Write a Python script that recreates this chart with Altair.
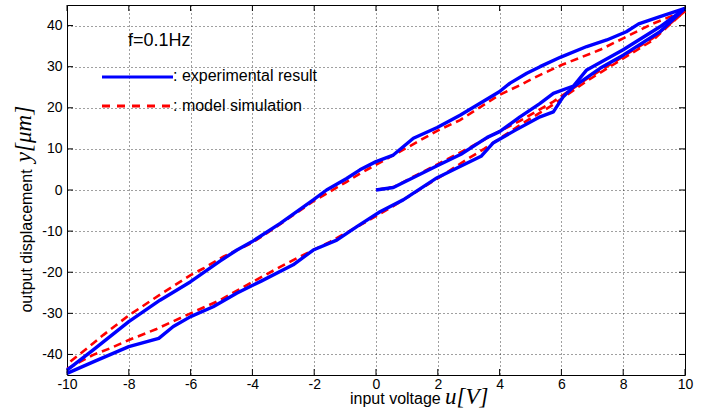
import altair as alt
import pandas as pd

# ---------------- data ----------------
# experimental result (blue solid)
exp_init_u = [0, 0.56, 1.1, 1.98, 2.75, 3.6, 4.0, 4.66, 5.3, 5.74, 6.39, 6.82, 8.0, 9.19, 10]
exp_init_y = [0, 0.6, 2.6, 5.9, 8.7, 12.8, 14.2, 17.8, 21.0, 23.5, 25.3, 29.2, 34.1, 39.7, 44.2]

exp_desc_u = [10, 9.19, 8.5, 8.1, 7.47, 6.82, 6.0, 5.31, 4.88, 4.34, 3.99, 3.37, 2.72, 1.98, 1.21,
              0.56, 0, -0.52, -0.95, -1.6, -2.03, -3.1, -4.02, -4.5, -5.05, -6.0, -6.99, -8.0, -9.15, -10]
exp_desc_y = [44.2, 42.2, 40.4, 38.5, 36.5, 34.9, 32.4, 30.0, 28.4, 26.0, 23.9, 21.1, 18.2, 15.2, 12.6,
              8.5, 6.9, 4.9, 2.8, 0, -2.4, -8.1, -12.6, -14.6, -17.3, -22.3, -26.8, -32.0, -38.9, -43.8]

exp_asc_u = [-10, -9.15, -8.0, -7.03, -6.56, -6.0, -5.27, -4.51, -3.7, -2.68, -2.03, -1.27, -0.62, 0.13,
             0.88, 1.98, 2.72, 3.4, 3.8, 4.5, 5.31, 5.74, 6.06, 6.39, 7.25, 8.0, 9.19, 10]
exp_asc_y = [-44.6, -41.8, -38.1, -36.1, -33.2, -30.8, -28.4, -25.1, -22.1, -18.2, -14.6, -12.2, -8.9, -5.3,
             -2.4, 3.0, 5.7, 8.2, 11.5, 14.5, 17.8, 19.0, 22.7, 25.1, 29.6, 32.8, 38.5, 44.2]

# model simulation (red dashed)
sim_init_u = [0, 0.6, 1.1, 2.0, 3.0, 4.0, 4.66, 5.74, 6.82, 8.0, 8.97, 9.4, 10]
sim_init_y = [0, 0.8, 2.8, 6.3, 10.2, 14.3, 16.8, 21.5, 27.0, 32.5, 37.0, 39.7, 43.5]

sim_desc_u = [10, 9.8, 8.97, 8.0, 7.25, 6.0, 5.09, 4.66, 3.99, 2.72, 1.98, 1.1, -0.52, -0.95, -2.0,
              -3.1, -4.0, -4.94, -5.59, -6.0, -7.0, -8.0, -8.83, -9.15, -9.9, -10]
sim_desc_y = [43.5, 43.0, 40.5, 36.9, 34.1, 30.4, 27.2, 25.5, 23.1, 17.0, 14.4, 10.7, 4.0, 2.0, -2.6,
              -8.3, -12.8, -16.2, -19.1, -20.7, -25.5, -30.5, -35.3, -37.3, -41.8, -42.5]

sim_asc_u = [-10, -9.15, -8.6, -8.0, -7.1, -6.0, -5.05, -4.08, -3.1, -2.46, -1.49, -0.5, 0.5, 1.5, 2.2,
             2.93, 3.5, 4.66, 5.74, 6.82, 8.0, 8.97, 9.4, 9.8, 10]
sim_asc_y = [-43.5, -40.1, -38.5, -36.5, -33.8, -30.0, -26.8, -22.7, -18.7, -16.2, -12.6, -8.5, -4.2, 0.5, 3.8,
             7.4, 10.0, 15.8, 20.8, 26.5, 32.0, 36.5, 39.5, 42.2, 43.5]

x_ticks = [-10, -8, -6, -4, -2, 0, 2, 4, 6, 8, 10]
y_ticks = [-40, -30, -20, -10, 0, 10, 20, 30, 40]

legend_labels = [": experimental result", ": model simulation"]
note_text = "f=0.1Hz"
x_title = "input voltage"
x_math = "u[V]"
y_title = "output displacement"
y_math = "y[μm]"


def frame(u, y, branch):
    return pd.DataFrame({"u": u, "y": y, "branch": branch, "idx": list(range(len(u)))})


exp_df = pd.concat([frame(exp_init_u, exp_init_y, "init"),
                    frame(exp_desc_u, exp_desc_y, "desc"),
                    frame(exp_asc_u, exp_asc_y, "asc")])
sim_df = pd.concat([frame(sim_init_u, sim_init_y, "init"),
                    frame(sim_desc_u, sim_desc_y, "desc"),
                    frame(sim_asc_u, sim_asc_y, "asc")])

W, H = 618, 370
FONT = "Liberation Sans"
MATH = "Liberation Serif"

xs = alt.Scale(domain=[-10, 10], nice=False, zero=False)
ys = alt.Scale(domain=[-45, 45], nice=False, zero=False)

x_axis = alt.Axis(values=x_ticks, grid=True, gridDash=[1, 3], gridColor="#000000", gridOpacity=0.75,
                  ticks=False, domain=False, labelFont=FONT, labelFontSize=14, labelColor="#000000",
                  labelPadding=2, labelFlush=False, title=None, labelExpr="'' + datum.value")
y_axis = alt.Axis(values=y_ticks, grid=True, gridDash=[1, 3], gridColor="#000000", gridOpacity=0.75,
                  ticks=False, domain=False, labelFont=FONT, labelFontSize=14, labelColor="#000000",
                  labelPadding=5, labelFlush=False, title=None, labelExpr="'' + datum.value")

sim = alt.Chart(sim_df).mark_line(color="#FF0000", strokeWidth=2.6, strokeDash=[8, 5]).encode(
    x=alt.X("u:Q", scale=xs, axis=x_axis),
    y=alt.Y("y:Q", scale=ys, axis=y_axis),
    detail="branch:N",
    order="idx:Q",
)
exp = alt.Chart(exp_df).mark_line(color="#0000FF", strokeWidth=3.4, strokeJoin="round").encode(
    x=alt.X("u:Q", scale=xs),
    y=alt.Y("y:Q", scale=ys),
    detail="branch:N",
    order="idx:Q",
)

# inward ticks (MATLAB style) on all four sides
yt = pd.DataFrame({"t": y_ticks})
xt = pd.DataFrame({"t": x_ticks})
tick_style = dict(color="#000000", strokeWidth=1)
tl = alt.Chart(yt).mark_rule(**tick_style).encode(y=alt.Y("t:Q", scale=ys), x=alt.value(0), x2=alt.value(6))
tr = alt.Chart(yt).mark_rule(**tick_style).encode(y=alt.Y("t:Q", scale=ys), x=alt.value(W - 6), x2=alt.value(W))
tb = alt.Chart(xt).mark_rule(**tick_style).encode(x=alt.X("t:Q", scale=xs), y=alt.value(H - 6), y2=alt.value(H))
tt = alt.Chart(xt).mark_rule(**tick_style).encode(x=alt.X("t:Q", scale=xs), y=alt.value(0), y2=alt.value(6))

# legend (inside plot, upper left)
one = pd.DataFrame({"a": [0]})
leg_blue = alt.Chart(one).mark_rule(color="#0000FF", strokeWidth=3).encode(
    x=alt.value(35), x2=alt.value(106), y=alt.value(72))
leg_red = alt.Chart(one).mark_rule(color="#FF0000", strokeWidth=3, strokeDash=[8, 7]).encode(
    x=alt.value(35), x2=alt.value(106), y=alt.value(101))
leg_t1 = alt.Chart(one).mark_text(text=legend_labels[0], font=FONT, fontSize=16, align="left",
                                  baseline="alphabetic", color="#000000").encode(x=alt.value(106), y=alt.value(76))
leg_t2 = alt.Chart(one).mark_text(text=legend_labels[1], font=FONT, fontSize=16, align="left",
                                  baseline="alphabetic", color="#000000").encode(x=alt.value(106), y=alt.value(106))
note = alt.Chart(one).mark_text(text=note_text, font=FONT, fontSize=18, align="left",
                                baseline="alphabetic", color="#000000").encode(x=alt.value(61), y=alt.value(41))

# axis titles (plain text + italic math part)
xt1 = alt.Chart(one).mark_text(text=x_title, font=FONT, fontSize=16, align="left",
                               baseline="alphabetic", color="#000000").encode(x=alt.value(283), y=alt.value(399))
xt2 = alt.Chart(one).mark_text(text=x_math, font=MATH, fontSize=23, fontStyle="italic", align="left",
                               baseline="alphabetic", color="#000000").encode(x=alt.value(378), y=alt.value(399))
yt1 = alt.Chart(one).mark_text(text=y_title, font=FONT, fontSize=16, align="center", angle=270,
                               baseline="alphabetic", color="#000000").encode(x=alt.value(-35), y=alt.value(236))
yt2 = alt.Chart(one).mark_text(text=y_math, font=MATH, fontSize=23, fontStyle="italic", align="center", angle=270,
                               baseline="alphabetic", color="#000000").encode(x=alt.value(-36), y=alt.value(129))

chart = alt.layer(
    sim, exp, tl, tr, tb, tt, leg_blue, leg_red, leg_t1, leg_t2, note, xt1, xt2, yt1, yt2
).properties(
    width=W, height=H,
    autosize=alt.AutoSizeParams(type="none"),
    padding={"left": 67, "top": 5, "right": 25, "bottom": 41},
    background="white",
).configure_view(stroke="#000000", strokeWidth=1)

chart.save("out.html", embed_options={"renderer": "svg", "actions": False})
